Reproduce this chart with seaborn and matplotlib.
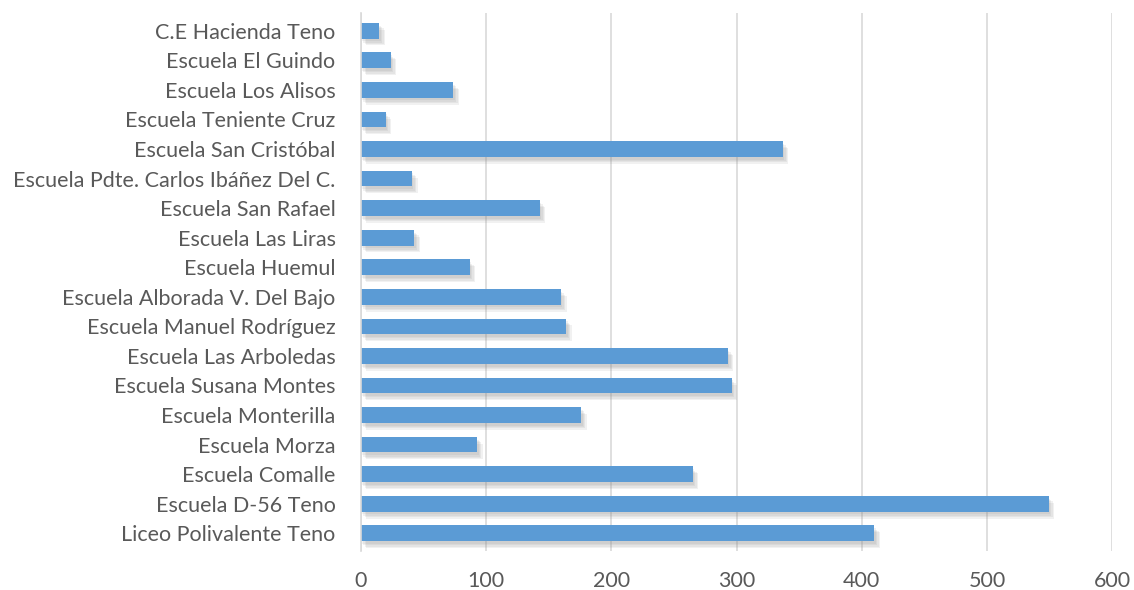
import matplotlib
matplotlib.use("Agg")
import matplotlib.pyplot as plt
import matplotlib.patheffects as pe
import seaborn as sns
import pandas as pd

# data (top to bottom)
escuelas = [
    "C.E Hacienda Teno",
    "Escuela El Guindo",
    "Escuela Los Alisos",
    "Escuela Teniente Cruz",
    "Escuela San Cristóbal",
    "Escuela Pdte. Carlos Ibáñez Del C.",
    "Escuela San Rafael",
    "Escuela Las Liras",
    "Escuela Huemul",
    "Escuela Alborada V. Del Bajo",
    "Escuela Manuel Rodríguez",
    "Escuela Las Arboledas",
    "Escuela Susana Montes",
    "Escuela Monterilla",
    "Escuela Morza",
    "Escuela Comalle",
    "Escuela D-56 Teno",
    "Liceo Polivalente Teno",
]
alumnos = [15, 24, 74, 20, 337, 41, 143, 43, 87, 160, 164, 293, 296, 176, 93, 265, 549, 410]
x_ticks = [0, 100, 200, 300, 400, 500, 600]

df = pd.DataFrame({"escuela": escuelas, "alumnos": alumnos})

sns.set_style("white")
plt.rcParams["font.family"] = ["Lato", "DejaVu Sans"]

fig = plt.figure(figsize=(11.34, 5.9), dpi=100)
ax = fig.add_axes([0.318, 0.066, 0.663, 0.912])

sns.barplot(data=df, x="alumnos", y="escuela", orient="h", color="#5b9bd5",
            width=0.53, saturation=1, linewidth=0, ax=ax)

# soft drop shadow like the excel bars (a few faint layers fake the blur)
shadow = [pe.SimplePatchShadow(offset=(o, -o - 1), shadow_rgbFace="#8c8c8c", alpha=0.12)
          for o in (1, 2, 3, 4)]
for bar in ax.patches:
    bar.set_path_effects(shadow + [pe.Normal()])

ax.set_xlim(0, 600)
ax.set_xticks(x_ticks)
ax.set_xlabel("")
ax.set_ylabel("")
ax.grid(axis="x", color="#d9d9d9", linewidth=1.2)
ax.set_axisbelow(True)
for s in ["top", "right", "bottom"]:
    ax.spines[s].set_visible(False)
ax.spines["left"].set_color("#d9d9d9")
ax.spines["left"].set_linewidth(1.2)
ax.tick_params(axis="both", length=0, labelsize=15.5, labelcolor="#595959")
ax.tick_params(axis="y", pad=18)
ax.tick_params(axis="x", pad=14)
ax.set_ylim(17.6, -0.6)

fig.savefig("out.png", dpi=100)
